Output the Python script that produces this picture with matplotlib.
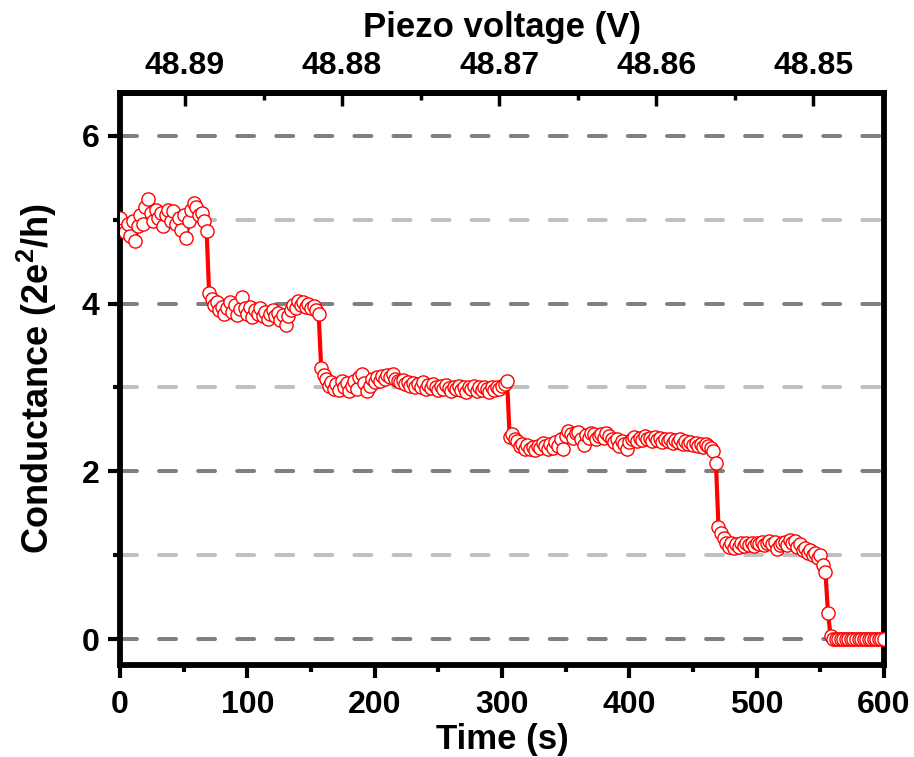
import numpy as np
import matplotlib
matplotlib.use("Agg")
import matplotlib.pyplot as plt
from matplotlib.ticker import MultipleLocator, FixedLocator, FormatStrFormatter

plt.rcParams["font.family"] = ["Liberation Sans", "DejaVu Sans"]
plt.rcParams["font.weight"] = "bold"
plt.rcParams["mathtext.fontset"] = "custom"
plt.rcParams["mathtext.rm"] = "Liberation Sans:bold"
plt.rcParams["mathtext.it"] = "Liberation Sans:bold"

# sampled every 2 s
dt = 2.0

# plateau ~5  (t = 0 .. 68)
g_step5 = [5.02, 4.88, 4.85, 4.95, 4.80, 4.98, 4.75, 4.92, 5.05, 4.95,
           5.15, 5.25, 5.08, 4.98, 5.12, 5.02, 5.08, 4.92, 5.05, 5.12,
           4.98, 5.10, 4.95, 5.02, 4.88, 5.05, 4.78, 4.98, 5.12, 5.20,
           5.15, 5.05, 5.08, 4.98, 4.87]
# plateau ~4  (t = 70 .. 156)
g_step4 = [4.12, 4.05, 3.98, 4.02, 3.92, 3.96, 3.88, 3.95, 4.02, 3.90,
           3.98, 3.86, 3.93, 4.08, 3.95, 3.88, 3.96, 3.84, 3.92, 3.87,
           3.95, 3.85, 3.90, 3.82, 3.88, 3.92, 3.85, 3.89, 3.80, 3.86,
           3.75, 3.85, 3.92, 3.98, 3.95, 4.03, 3.98, 4.02, 3.96, 4.00,
           3.95, 3.97, 3.92, 3.87]
# plateau ~3  (t = 158 .. 304)
g_step3 = [3.23, 3.15, 3.10, 3.02, 3.06, 2.98, 3.04, 2.97, 3.08, 3.00,
           3.05, 2.96, 3.02, 3.08, 2.98, 3.12, 3.16, 3.05, 2.96, 3.02,
           3.10, 3.06, 3.12, 3.08, 3.14, 3.10, 3.15, 3.12, 3.16, 3.10,
           3.08, 3.06, 3.09, 3.04, 3.07, 3.02, 3.05, 3.00, 3.04, 3.01,
           3.06, 2.98, 3.03, 2.99, 3.04, 3.00, 2.97, 3.02, 2.98, 3.03,
           2.99, 2.96, 3.01, 2.98, 3.02, 2.97, 3.00, 2.95, 3.01, 2.98,
           3.02, 2.96, 3.00, 2.97, 3.01, 2.98, 2.95, 3.00, 2.97, 3.01,
           2.98, 3.02, 3.04, 3.08]
# plateau ~2.35  (t = 306 .. 468)
g_step2 = [2.41, 2.44, 2.38, 2.36, 2.30, 2.33, 2.27, 2.31, 2.26, 2.29,
           2.25, 2.30, 2.28, 2.34, 2.30, 2.26, 2.32, 2.28, 2.35, 2.30,
           2.38, 2.27, 2.42, 2.48, 2.44, 2.40, 2.46, 2.47, 2.38, 2.31,
           2.43, 2.40, 2.46, 2.44, 2.38, 2.42, 2.45, 2.40, 2.46, 2.42,
           2.38, 2.35, 2.39, 2.30, 2.36, 2.33, 2.27, 2.35, 2.38, 2.41,
           2.36, 2.40, 2.37, 2.42, 2.38, 2.40, 2.36, 2.41, 2.37, 2.40,
           2.35, 2.38, 2.36, 2.39, 2.34, 2.37, 2.35, 2.38, 2.33, 2.36,
           2.32, 2.35, 2.31, 2.34, 2.30, 2.33, 2.29, 2.32, 2.30, 2.28,
           2.24, 2.10]
# plateau ~1.1  (t = 470 .. 554)
g_step1 = [1.33, 1.26, 1.20, 1.15, 1.10, 1.14, 1.09, 1.13, 1.10, 1.14,
           1.11, 1.15, 1.12, 1.14, 1.11, 1.15, 1.13, 1.16, 1.12, 1.15,
           1.17, 1.13, 1.16, 1.07, 1.12, 1.14, 1.16, 1.12, 1.18, 1.15,
           1.17, 1.10, 1.13, 1.06, 1.08, 1.03, 1.06, 1.00, 1.02, 0.97,
           1.00, 0.88, 0.80]
# broken contact  (t = 556 .. 600)
g_step0 = [0.31, 0.04, 0.0, 0.0, 0.0, 0.0, 0.0, 0.0, 0.0, 0.0,
           0.0, 0.0, 0.0, 0.0, 0.0, 0.0, 0.0, 0.0, 0.0, 0.0,
           0.0, 0.0, 0.0]

conductance = np.array(g_step5 + g_step4 + g_step3 + g_step2 + g_step1 + g_step0)
time_s = dt * np.arange(len(conductance))

dark_levels = [0, 2, 4, 6]
light_levels = [1, 3, 5]

volt_ticks = [48.89, 48.88, 48.87, 48.86, 48.85]
volt_minor = [48.885, 48.875, 48.865, 48.855]

# piezo voltage ramps linearly with time
V0 = 48.89414
dVdt = -8.108e-5


def t2v(t):
    return V0 + dVdt * np.asarray(t)


def v2t(v):
    return (np.asarray(v) - V0) / dVdt


fig = plt.figure(figsize=(9.14, 7.57), dpi=100)
ax = fig.add_axes([0.1313, 0.1215, 0.8359, 0.7556])

for y in dark_levels:
    ax.axhline(y, color="#808080", lw=2.9, dashes=(4.2, 5.5),
               dash_capstyle="round", zorder=1)
for y in light_levels:
    ax.axhline(y, color="#c0c0c0", lw=2.9, dashes=(4.2, 5.5),
               dash_capstyle="round", zorder=1)

ax.plot(time_s, conductance, color="red", lw=3, marker="o", ms=9.5,
        mfc="white", mec="red", mew=1.0, zorder=3)

ax.set_xlim(0, 600)
ax.set_ylim(-0.31, 6.51)

ax.xaxis.set_major_locator(MultipleLocator(100))
ax.xaxis.set_minor_locator(MultipleLocator(50))
ax.yaxis.set_major_locator(MultipleLocator(2))
ax.yaxis.set_minor_locator(MultipleLocator(1))

for s in ax.spines.values():
    s.set_linewidth(4.2)

ax.tick_params(which="both", direction="out", top=False, right=False,
               width=3, labelsize=23)
ax.tick_params(axis="x", pad=9)
ax.tick_params(axis="y", pad=6)
ax.tick_params(which="major", length=9)
ax.tick_params(which="minor", length=5)

ax.set_xlabel("Time (s)", fontsize=25, fontweight="bold", labelpad=2)
ax.set_ylabel("Conductance (2e$^{2}$/h)", fontsize=26, fontweight="bold",
              labelpad=16)

sec = ax.secondary_xaxis("top", functions=(t2v, v2t))
sec.set_xticks(volt_ticks)
sec.xaxis.set_minor_locator(FixedLocator(volt_minor))
sec.xaxis.set_major_formatter(FormatStrFormatter("%.2f"))
sec.spines["top"].set_linewidth(4.2)
sec.tick_params(which="both", direction="in", width=2.5, labelsize=23, pad=9)
sec.tick_params(which="major", length=9)
sec.tick_params(which="minor", length=5)
sec.set_xlabel("Piezo voltage (V)", fontsize=25, fontweight="bold", labelpad=10)

fig.savefig("out.png", dpi=100)
